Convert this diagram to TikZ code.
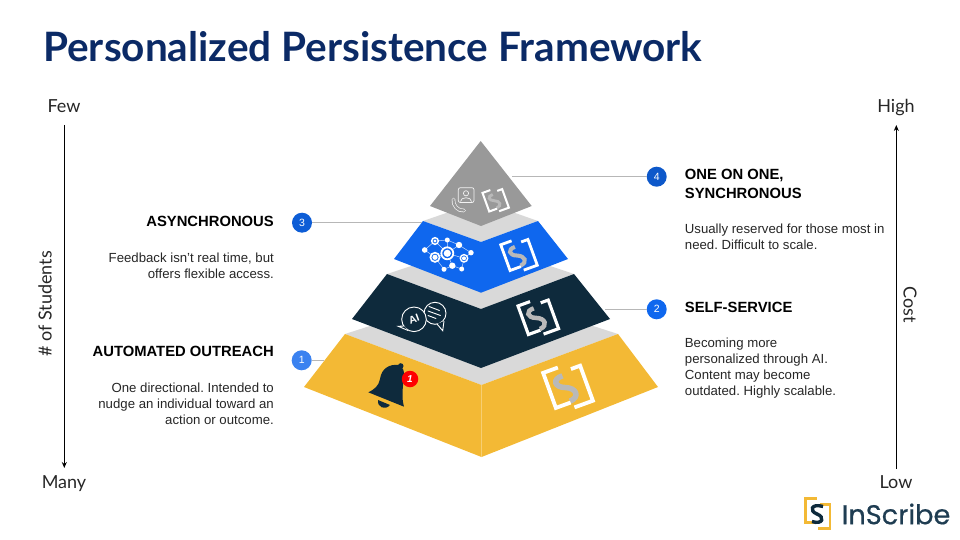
\documentclass[tikz,border=0pt]{standalone}
\usepackage{fontspec}
\setmainfont{Liberation Sans}
\newfontfamily\latofont{Lato}
\newfontfamily\brandfont[FakeBold=0.5]{Poppins}
\usetikzlibrary{arrows.meta}
\definecolor{titleblue}{HTML}{0B2A66}
\definecolor{slabgray}{HTML}{D9D9D9}
\definecolor{topgray}{HTML}{999999}
\definecolor{tierblue}{HTML}{0F67EE}
\definecolor{tierdark}{HTML}{0E2A3C}
\definecolor{tieryellow}{HTML}{F3B935}
\definecolor{sgray}{HTML}{B9B9B9}
\definecolor{leadgray}{HTML}{B7B7B7}
\definecolor{brandtext}{HTML}{1F3D52}
\definecolor{firstblue}{HTML}{3B82F0}
\frenchspacing
% bracket mark: x, y, scale, colour of the S
\newcommand{\logomark}[4]{%
  \begin{scope}[shift={(#1,#2)},rotate=20,scale=#3]
    \draw[line width=#3*5.6pt,draw=#4] (-1.5,-12.5) .. controls (-13,-13) and (-13,-4) .. (-3,-0.3)
      .. controls (8,4) and (8,14) .. (-3,14.5);
    \draw[line width=#3*3.9pt,white] (-3,-22) -- (-19,-22) -- (-19,16) -- (-3,16);
    \draw[line width=#3*3.9pt,white] (9,-16) -- (19,-16) -- (19,22) -- (-1,22);
  \end{scope}}
\begin{document}
\begin{tikzpicture}[x=1pt,y=-1pt,
  slab/.style={fill=slabgray},
  lead/.style={draw=leadgray,line width=0.8pt},
  axis/.style={-{Stealth[length=6pt,width=5pt]},line width=0.9pt,black},
  badge/.style={circle,minimum size=20pt,inner sep=0pt,text=white,font=\fontsize{10.5}{10.5}\selectfont},
  head/.style={inner sep=0pt,font=\bfseries\fontsize{14.8}{19.2}\selectfont},
  body/.style={inner sep=0pt,text=black!85,font=\fontsize{13.2}{16}\selectfont},
  end/.style={inner sep=0pt,anchor=base,text=black!85,font=\latofont\fontsize{18}{18}\selectfont},
  wire/.style={white,line width=0.9pt},
  thin wire/.style={white!75!tierblue,line width=0.5pt},
  soft/.style={white!88!topgray,line width=0.7pt}]
\useasboundingbox (0,0) rectangle (960,540);
% ---------- title ----------
\node[anchor=west,inner sep=0pt,text=titleblue,font=\latofont\bfseries\fontsize{40.5}{42}\selectfont] (title) at (43,47) {Personalized Persistence Framework};
% ---------- left axis ----------
\node[end] (few) at (64,112.8) {Few};
\node[end] (many) at (64,488) {Many};
\node[end,anchor=center,rotate=90] (students) at (45,304) {\# of Students};
\coordinate (leftup) at (64.3,125);
\coordinate (leftdown) at (64.3,468);
\draw[axis] (leftup) -- (leftdown);
% ---------- right axis ----------
\node[end] (high) at (896,112.3) {High};
\node[end] (low) at (896,488.5) {Low};
\node[end,anchor=center,rotate=-90] (cost) at (910,305) {Cost};
\coordinate (rightup) at (896.3,125);
\coordinate (rightdown) at (896.3,469);
\draw[axis] (rightdown) -- (rightup);
% ---------- bottom tier ----------
\fill[slab] (345,334) -- (481.5,290) -- (618,334) -- (481.5,385) -- cycle;
\fill[tieryellow] (345,334) -- (481.5,385) -- (618,334) -- (658,387) -- (481.5,457) -- (304,387) -- cycle;
\draw[tieryellow!70!white,line width=0.4pt] (481.5,385) -- (481.5,457);
\logomark{568}{386.8}{0.98}{sgray}
\fill[tierdark] (368.3,392.3) .. controls (375,389) and (378.5,386) .. (380,379) .. controls (381.5,368) and (390,364) .. (398,365)
  .. controls (403,366) and (405,372) .. (404,378) .. controls (402.5,388) and (401.5,398) .. (404,406.7) -- cycle;
\fill[tierdark] (400.7,366) circle (2.8);
\fill[tierdark] (378,400) .. controls (377,407) and (385,411) .. (390,405) -- cycle;
\node[circle,fill=red,minimum size=16.5pt,inner sep=0pt,text=white,font=\bfseries\itshape\fontsize{10}{10}\selectfont] (alert) at (410,379) {1};
% ---------- dark tier ----------
\fill[slab] (387,274) -- (481,243) -- (574,274) -- (481,309) -- cycle;
\fill[tierdark] (387,274) -- (481,309) -- (574,274) -- (610,319) -- (481,368) -- (352,319) -- cycle;
\logomark{538.3}{317.3}{0.8}{sgray}
\draw[wire,fill=tierdark] (435,313.3) circle (11);
\draw[wire,fill=tierdark] (437,324) -- (442.7,330.7) -- (444,321);
\draw[wire,line cap=round] (429,306.5) -- (439.5,310.5) (428,311) -- (440.5,315.5) (428,315.5) -- (436,318.5);
\draw[wire,fill=tierdark] (414,319.3) circle (12.3);
\draw[wire,fill=tierdark] (404,326) -- (398.3,326.3) -- (408,330.5);
\node[rotate=20,inner sep=0pt,text=white,font=\bfseries\fontsize{10.5}{10.5}\selectfont] (ailabel) at (414,319.3) {AI};
% ---------- blue tier ----------
\fill[slab] (423,221) -- (481,201) -- (538,221) -- (481,242) -- cycle;
\fill[tierblue] (423,221) -- (481,242) -- (538,221) -- (568,259) -- (481,292.7) -- (394,259) -- cycle;
\logomark{519}{255}{0.72}{sgray}
\draw[thin wire] (424.7,250) -- (435,241) -- (447.3,240) -- (459,245) -- (471,252.7) -- (464,258.3) -- (461.7,269) -- (452.3,265.7) -- (444,269.3) -- (435,257.3) -- cycle;
\draw[thin wire] (435,241) -- (447.3,253.3) -- (459,245) (435,257.3) -- (447.3,253.3) -- (464,258.3) (447.3,253.3) -- (452.3,265.7) (447.3,240) -- (447.3,253.3);
\fill[white] (424.7,250) circle (2.8) (447.3,240) circle (2.5) (459,245) circle (3.2) (471,252.7) circle (2.7)
  (452.3,265.7) circle (3.2) (444,269.3) circle (2.5) (461.7,269) circle (2.5);
\draw[white,line width=1.8pt,fill=tierblue] (447.3,253.3) circle (6);
\draw[white,line width=1.5pt,fill=tierblue] (435,241) circle (3.3);
\draw[white,line width=1.7pt,fill=tierblue] (435,257.3) circle (4.6);
\draw[white,line width=1.4pt,fill=tierblue] (464,258.3) circle (3.7);
\fill[white] (447.3,253.3) circle (3.6) (435,241) circle (1.7) (435,257.3) circle (2.6) (464,258.3) circle (2);
% ---------- top tier ----------
\fill[topgray] (480.7,141) -- (531.7,206) -- (481,226) -- (430,206) -- cycle;
\logomark{495.7}{200.3}{0.52}{sgray}
\draw[soft,rounded corners=2pt] (458.3,187.7) rectangle (474,202.5);
\draw[soft] (466,193.3) circle (2.6);
\draw[soft] (460.5,201.5) .. controls (460.5,196.5) and (471.5,196.5) .. (471.5,201.5);
\draw[line width=3.6pt,white!88!topgray,line cap=round] (453.5,199.5) .. controls (452.5,205) and (458,211.5) .. (464,210.5);
\draw[line width=2.2pt,topgray,line cap=round] (453.5,199.5) .. controls (452.5,205) and (458,211.5) .. (464,210.5);
% ---------- number 1 ----------
\node[badge,fill=firstblue] (one) at (301.7,360.3) {1};
\coordinate (oneend) at (324.3,360.3);
\draw[lead] (one) -- (oneend);
\node[head,anchor=east] (onehead) at (274,351) {AUTOMATED OUTREACH};
\node[body,anchor=east,align=right] (onebody) at (274,403.7) {One directional. Intended to\\nudge an individual toward an\\action or outcome.};
% ---------- number 2 ----------
\node[badge,fill=tierblue] (two) at (656.7,309.3) {2};
\coordinate (twoend) at (605,309.3);
\draw[lead] (two) -- (twoend);
\node[head,anchor=west] (twohead) at (684.7,307.7) {SELF-SERVICE};
\node[body,anchor=west,align=left] (twobody) at (684.7,368) {Becoming more\\personalized through AI.\\Content may become\\outdated. Highly scalable.};
% ---------- number 3 ----------
\node[badge,fill=tierblue!90!black] (three) at (302,222.7) {3};
\coordinate (threeend) at (421.7,222.7);
\draw[lead] (three) -- (threeend);
\node[head,anchor=east] (threehead) at (274,221.7) {ASYNCHRONOUS};
\node[body,anchor=east,align=right] (threebody) at (274,265.4) {Feedback isn't real time, but\hspace{-3.5pt}\\offers flexible access.};
% ---------- number 4 ----------
\node[badge,fill=tierblue!85!black] (four) at (656.7,176.7) {4};
\coordinate (fourend) at (511.7,176.7);
\draw[lead] (four) -- (fourend);
\node[head,anchor=west,align=left] (fourhead) at (684.7,184) {ONE ON ONE,\\SYNCHRONOUS};
\node[body,anchor=west,align=left] (fourbody) at (684.7,237.2) {Usually reserved for those most in\\need. Difficult to scale.};
% ---------- brand ----------
\draw[tieryellow,line width=2.8pt] (816.5,498.5) -- (805.5,498.5) -- (805.5,522.5) -- (816.5,522.5);
\draw[tieryellow,line width=2.8pt] (820,504.5) -- (830,504.5) -- (830,528.5) -- (818,528.5);
\draw[tierdark,line width=3.4pt] (823,506.5) .. controls (811,503) and (809,511) .. (817,514) .. controls (825,517) and (823,525) .. (812,521.5);
\node[anchor=west,inner sep=0pt,text=brandtext,font=\brandfont\fontsize{27.2}{27}\selectfont] (brand) at (841.5,514) {InScribe};
\end{tikzpicture}
\end{document}
